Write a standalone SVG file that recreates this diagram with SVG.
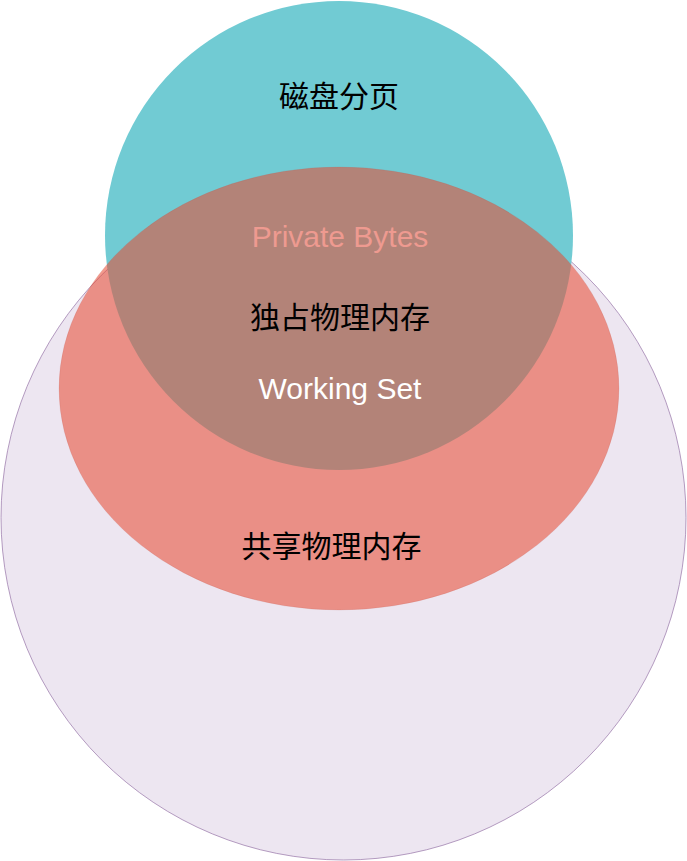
<svg xmlns="http://www.w3.org/2000/svg" width="687" height="861" viewBox="0 0 687 861">
<style>
.t{font-family:"Liberation Sans","Noto Sans CJK SC",sans-serif;font-size:30px;text-anchor:middle}
</style>
<rect width="687" height="861" fill="#ffffff"/>
<g id="shared">
<circle cx="343.5" cy="517.5" r="342.5" fill="#e1d5e7" fill-opacity="0.6" stroke="#9673a6" stroke-opacity="0.7" stroke-width="1"/>
</g>
<g id="paging">
<ellipse cx="339" cy="235.5" rx="234" ry="234.5" fill="#71cbd3"/>
</g>
<g id="private">
<ellipse cx="339" cy="388.5" rx="280" ry="221.5" fill="#e74931" fill-opacity="0.556" stroke="#b85450" stroke-opacity="0.15" stroke-width="1"/>
</g>
<g id="labels">
<text class="t" x="339" y="107" fill="#000000">磁盘分页</text>
<text class="t" x="340" y="247" fill="#ee9a90">Private Bytes</text>
<text class="t" x="340" y="328" fill="#000000">独占物理内存</text>
<text class="t" x="340" y="399" fill="#ffffff">Working Set</text>
<text class="t" x="331.5" y="556.5" fill="#000000">共享物理内存</text>
</g>
<g id="connectors"/>
</svg>
